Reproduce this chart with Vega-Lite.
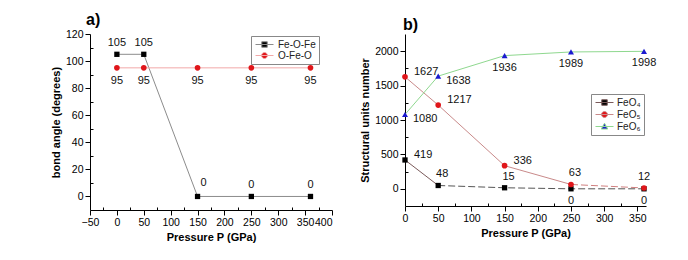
{
  "$schema": "https://vega.github.io/schema/vega-lite/v6.json",
  "padding": {"left": 50, "top": 12, "right": 5, "bottom": 5},
  "background": "white",
  "spacing": 26,
  "datasets": {
    "a": [
      {"s": "Fe-O-Fe", "P": 0, "v": 105},
      {"s": "Fe-O-Fe", "P": 50, "v": 105},
      {"s": "Fe-O-Fe", "P": 150, "v": 0},
      {"s": "Fe-O-Fe", "P": 250, "v": 0},
      {"s": "Fe-O-Fe", "P": 360, "v": 0},
      {"s": "O-Fe-O", "P": 0, "v": 95},
      {"s": "O-Fe-O", "P": 50, "v": 95},
      {"s": "O-Fe-O", "P": 150, "v": 95},
      {"s": "O-Fe-O", "P": 250, "v": 95},
      {"s": "O-Fe-O", "P": 360, "v": 95}
    ],
    "b": [
      {"s": "FeO₄", "P": 0, "v": 419},
      {"s": "FeO₄", "P": 50, "v": 48},
      {"s": "FeO₄", "P": 150, "v": 15},
      {"s": "FeO₄", "P": 250, "v": 0},
      {"s": "FeO₄", "P": 360, "v": 0},
      {"s": "FeO₅", "P": 0, "v": 1627},
      {"s": "FeO₅", "P": 50, "v": 1217},
      {"s": "FeO₅", "P": 150, "v": 336},
      {"s": "FeO₅", "P": 250, "v": 63},
      {"s": "FeO₅", "P": 360, "v": 12},
      {"s": "FeO₆", "P": 0, "v": 1080},
      {"s": "FeO₆", "P": 50, "v": 1638},
      {"s": "FeO₆", "P": 150, "v": 1936},
      {"s": "FeO₆", "P": 250, "v": 1989},
      {"s": "FeO₆", "P": 360, "v": 1998}
    ]
  },
  "hconcat": [
    {
      "width": 242,
      "height": 176,
      "title": {"text": "a)", "anchor": "start", "frame": "group", "dx": -4, "fontSize": 16, "fontWeight": "bold", "font": "Liberation Sans", "offset": 1},
      "data": {"name": "a"},
      "encoding": {
        "x": {"field": "P", "type": "quantitative", "title": "Pressure P (GPa)",
          "scale": {"domain": [-50, 400], "nice": false, "zero": false},
          "axis": {"values": [-50,-25,0,25,50,75,100,125,150,175,200,225,250,275,300,325,350,375,400],
            "labelFlush": false,
            "labelExpr": "datum.value % 50 === 0 ? datum.label : ''",
            "labelAlign": {"condition": {"test": "datum.value === 400", "value": "right"}, "value": "center"},
            "tickSize": {"condition": {"test": "datum.value % 50 === 0", "value": 5}, "value": -3},
            "titlePadding": 4}},
        "y": {"field": "v", "type": "quantitative", "title": "bond angle (degrees)",
          "scale": {"domain": [-10, 120], "nice": false, "zero": false},
          "axis": {"values": [0,10,20,30,40,50,60,70,80,90,100,110,120],
            "labelExpr": "datum.value % 20 === 0 ? datum.label : ''",
            "tickSize": {"condition": {"test": "datum.value % 20 === 0", "value": 5}, "value": -3},
            "titlePadding": 4}}
      },
      "layer": [
        {"mark": {"type": "line", "strokeWidth": 1},
          "encoding": {
            "color": {"field": "s", "type": "nominal", "scale": {"domain": ["Fe-O-Fe", "O-Fe-O"], "range": ["#8c8c8c", "#f2a8a8"]},
              "legend": {"title": null, "orient": "none", "legendX": 161, "legendY": 2, "strokeColor": "#888", "fillColor": "white", "padding": 3, "rowPadding": 0, "labelFont": "Liberation Sans", "labelFontSize": 10, "symbolSize": 100, "symbolOffset": 5, "labelOffset": 8,
                "encode": {"symbols": {"update": {
                  "shape": {"signal": "datum.value === 'Fe-O-Fe' ? 'M-1.8,0H1.8M-0.55,-0.55H0.55V0.55H-0.55Z' : 'M-1.8,0H1.8M0.6,0A0.6,0.6 0 1,1 -0.6,0A0.6,0.6 0 1,1 0.6,0Z'"},
                  "fill": {"signal": "datum.value === 'Fe-O-Fe' ? '#000000' : '#e0161a'"},
                  "fillOpacity": {"value": 1},
                  "strokeWidth": {"value": 1}}}}}},
            "detail": {"field": "s"}
          }},
        {"transform": [{"filter": "datum.s === 'Fe-O-Fe'"}], "mark": {"type": "point", "shape": "square", "filled": true, "opacity": 1, "size": 28, "color": "#000000"}, "encoding": {}},
        {"transform": [{"filter": "datum.s === 'O-Fe-O'"}], "mark": {"type": "point", "shape": "circle", "filled": true, "opacity": 1, "size": 32, "color": "#e0161a"}, "encoding": {}},
        {"transform": [{"filter": "datum.s === 'Fe-O-Fe' && datum.P !== 150"}], "mark": {"type": "text", "dy": -11, "font": "Liberation Sans", "fontSize": 11, "color": "#111"}, "encoding": {"text": {"field": "v", "type": "quantitative"}}},
        {"transform": [{"filter": "datum.s === 'Fe-O-Fe' && datum.P === 150"}], "mark": {"type": "text", "dy": -13, "dx": 6, "font": "Liberation Sans", "fontSize": 11, "color": "#111"}, "encoding": {"text": {"field": "v", "type": "quantitative"}}},
        {"transform": [{"filter": "datum.s === 'O-Fe-O'"}], "mark": {"type": "text", "dy": 13, "font": "Liberation Sans", "fontSize": 11, "color": "#111"}, "encoding": {"text": {"field": "v", "type": "quantitative"}}}
      ]
    },
    {
      "width": 241,
      "height": 172,
      "title": {"text": "b)", "anchor": "start", "frame": "group", "dx": -2, "fontSize": 16, "fontWeight": "bold", "font": "Liberation Sans", "offset": 1},
      "data": {"name": "b"},
      "encoding": {
        "x": {"field": "P", "type": "quantitative", "title": "Pressure P (GPa)",
          "scale": {"domain": [0, 363], "nice": false, "zero": false},
          "axis": {"values": [0,25,50,75,100,125,150,175,200,225,250,275,300,325,350],
            "labelFlush": false,
            "labelExpr": "datum.value % 50 === 0 ? datum.label : ''",
            "tickSize": {"condition": {"test": "datum.value % 50 === 0", "value": 5}, "value": -3},
            "titlePadding": 4}},
        "y": {"field": "v", "type": "quantitative", "title": "Structural units number",
          "scale": {"domain": [-250, 2250], "nice": false, "zero": false},
          "axis": {"values": [0,250,500,750,1000,1250,1500,1750,2000],
            "format": "d",
            "labelExpr": "datum.value % 500 === 0 ? datum.label : ''",
            "tickSize": {"condition": {"test": "datum.value % 500 === 0", "value": 5}, "value": -3},
            "titlePadding": 4}}
      },
      "layer": [
        {"transform": [{"filter": "!(datum.s === 'FeO₄' && datum.P > 50) && !(datum.s === 'FeO₅' && datum.P > 250)"}],
          "mark": {"type": "line", "strokeWidth": 1},
          "encoding": {
            "color": {"field": "s", "type": "nominal", "scale": {"domain": ["FeO₄", "FeO₅", "FeO₆"], "range": ["#7a5a5a", "#c98a8a", "#8fd88f"]},
              "legend": {"title": null, "orient": "none", "legendX": 186, "legendY": 60, "strokeColor": "#888", "fillColor": "white", "padding": 3, "rowPadding": 1, "labelFont": "Liberation Sans", "labelFontSize": 10, "symbolSize": 100, "symbolOffset": 5, "labelOffset": 7,
                "encode": {"symbols": {"update": {
                  "shape": {"signal": "datum.value === 'FeO₄' ? 'M-1.8,0H1.8M-0.55,-0.55H0.55V0.55H-0.55Z' : datum.value === 'FeO₅' ? 'M-1.8,0H1.8M0.6,0A0.6,0.6 0 1,1 -0.6,0A0.6,0.6 0 1,1 0.6,0Z' : 'M-1.8,0H1.8M0,-0.65L0.65,0.5L-0.65,0.5Z'"},
                  "fill": {"signal": "datum.value === 'FeO₄' ? '#000000' : datum.value === 'FeO₅' ? '#e0161a' : '#1a1ad0'"},
                  "fillOpacity": {"value": 1},
                  "strokeWidth": {"value": 1}}}}}},
            "detail": {"field": "s"}
          }},
        {"transform": [{"filter": "datum.s === 'FeO₄' && datum.P >= 50"}], "mark": {"type": "line", "color": "#555555", "strokeWidth": 1, "strokeDash": [7, 3]}, "encoding": {}},
        {"transform": [{"filter": "datum.s === 'FeO₅' && datum.P >= 250"}], "mark": {"type": "line", "color": "#d08080", "strokeWidth": 1, "strokeDash": [7, 3]}, "encoding": {}},
        {"transform": [{"filter": "datum.s === 'FeO₄'"}], "mark": {"type": "point", "shape": "square", "filled": true, "opacity": 1, "size": 28, "color": "#000000"}, "encoding": {}},
        {"transform": [{"filter": "datum.s === 'FeO₅'"}], "mark": {"type": "point", "shape": "circle", "filled": true, "opacity": 1, "size": 32, "color": "#e0161a"}, "encoding": {}},
        {"transform": [{"filter": "datum.s === 'FeO₆'"}], "mark": {"type": "point", "shape": "triangle-up", "filled": true, "opacity": 1, "size": 36, "color": "#1a1ad0"}, "encoding": {}},
        {"transform": [{"filter": "(datum.s === 'FeO₄' && datum.P === 0) || (datum.s === 'FeO₅' && datum.P <= 150)"}], "mark": {"type": "text", "align": "left", "dx": 9, "dy": -5, "font": "Liberation Sans", "fontSize": 11, "color": "#111"}, "encoding": {"text": {"field": "v", "type": "quantitative"}}},
        {"transform": [{"filter": "datum.s === 'FeO₆' && datum.P <= 50"}], "mark": {"type": "text", "align": "left", "dx": 8, "dy": 5, "font": "Liberation Sans", "fontSize": 11, "color": "#111"}, "encoding": {"text": {"field": "v", "type": "quantitative"}}},
        {"transform": [{"filter": "(datum.s === 'FeO₄' && datum.P >= 50 && datum.P <= 150) || (datum.s === 'FeO₅' && datum.P === 250)"}], "mark": {"type": "text", "dy": -11, "dx": 4, "font": "Liberation Sans", "fontSize": 11, "color": "#111"}, "encoding": {"text": {"field": "v", "type": "quantitative"}}},
        {"transform": [{"filter": "datum.s === 'FeO₅' && datum.P === 360"}], "mark": {"type": "text", "dy": -11, "font": "Liberation Sans", "fontSize": 11, "color": "#111"}, "encoding": {"text": {"field": "v", "type": "quantitative"}}},
        {"transform": [{"filter": "(datum.s === 'FeO₄' && datum.P >= 250) || (datum.s === 'FeO₆' && datum.P >= 150)"}], "mark": {"type": "text", "dy": 12, "font": "Liberation Sans", "fontSize": 11, "color": "#111"}, "encoding": {"text": {"field": "v", "type": "quantitative"}}}
      ]
    }
  ],
  "resolve": {"scale": {"color": "independent", "x": "independent", "y": "independent"}, "legend": {"color": "independent"}},
  "config": {
    "view": {"stroke": null},
    "axis": {"grid": false, "labelOverlap": false, "labelFont": "Liberation Sans", "labelFontSize": 10.5, "labelColor": "#000", "titleFont": "Liberation Sans", "titleFontSize": 11, "titleFontWeight": "bold", "titleColor": "#000", "domainColor": "#000", "tickColor": "#000", "labelPadding": 2},
    "legend": {"labelColor": "#222"}
  }
}
